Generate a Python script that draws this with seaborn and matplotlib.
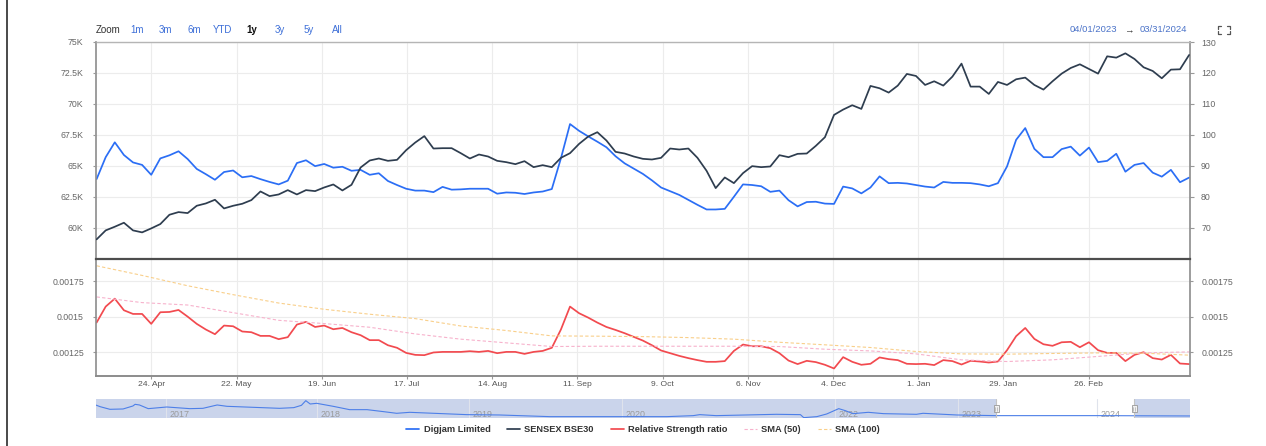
import pandas as pd
import numpy as np
import matplotlib
matplotlib.use('Agg')
import matplotlib.pyplot as plt
import matplotlib.dates as mdates
from matplotlib.ticker import FuncFormatter, FixedLocator
from matplotlib.lines import Line2D
from matplotlib.patches import Rectangle
import seaborn as sns

# datas de amostragem (a cada ~3 dias, de abr/2023 a mar/2024)
dates = pd.date_range('2023-04-06', '2024-03-30', periods=121)

# preco Digjam Limited (eixo direito)
digjam = [85.7, 92.8, 97.6, 93.5, 91.1, 90.3, 87.1, 92.4, 93.4, 94.7,
          92.2, 89.0, 87.3, 85.5, 88.0, 88.5, 86.3, 86.7, 85.7, 84.8,
          84.0, 85.2, 90.9, 91.8, 89.9, 90.6, 89.4, 89.7, 88.4, 88.7,
          87.1, 87.6, 85.1, 83.8, 82.6, 82.0, 82.0, 81.5, 83.2, 82.3,
          82.4, 82.6, 82.6, 82.6, 81.0, 81.4, 81.3, 80.9, 81.4, 81.7,
          82.5, 92.4, 103.5, 101.3, 99.5, 97.8, 96.0, 93.1, 90.8, 89.1,
          87.4, 85.3, 83.0, 81.8, 80.6, 79.0, 77.4, 75.9, 75.9, 76.1,
          80.0, 84.0, 83.8, 83.4, 81.6, 82.0, 78.9, 76.9, 78.3, 78.4,
          77.8, 77.7, 83.3, 82.7, 81.1, 83.0, 86.6, 84.4, 84.5, 84.3,
          83.8, 83.3, 83.0, 84.8, 84.5, 84.5, 84.4, 84.0, 83.4, 84.4,
          89.8, 98.4, 102.2, 95.5, 92.8, 92.8, 95.4, 96.2, 93.3, 95.9,
          91.2, 91.6, 93.9, 88.1, 90.3, 90.9, 87.8, 86.5, 88.7, 84.7, 86.2]

# SENSEX BSE30 (eixo esquerdo)
sensex = [59060, 59786, 60082, 60404, 59786, 59625, 59947, 60297, 61049, 61264,
          61184, 61775, 61963, 62259, 61560, 61775, 61936, 62232, 62931, 62555,
          62689, 63038, 62689, 63038, 62958, 63253, 63495, 63012, 63468, 64866,
          65431, 65592, 65404, 65484, 66264, 66882, 67400, 66398, 66425, 66425,
          66022, 65592, 65915, 65753, 65404, 65296, 65135, 65377, 64893, 65054,
          64893, 65646, 66022, 66775, 67366, 67716, 67044, 66130, 65995, 65753,
          65565, 65511, 65646, 66398, 66318, 66398, 65646, 64597, 63200, 64060,
          63603, 64409, 64974, 64893, 64947, 65861, 65700, 65968, 65995, 66613,
          67312, 69113, 69543, 69893, 69597, 71452, 71264, 70914, 71479, 72420,
          72258, 71532, 71828, 71479, 72204, 73253, 71398, 71398, 70807, 71774,
          71532, 71989, 72124, 71532, 71156, 71828, 72446, 72903, 73199, 72823,
          72446, 73844, 73737, 74086, 73629, 72957, 72661, 72070, 72769, 72796, 73952]

# relative strength ratio
ratio = [0.001459, 0.001572, 0.001628, 0.001546, 0.001520, 0.001520, 0.001450, 0.001532, 0.001534, 0.001548,
         0.001501, 0.001450, 0.001410, 0.001377, 0.001438, 0.001433, 0.001396, 0.001391, 0.001365, 0.001365,
         0.001342, 0.001356, 0.001445, 0.001464, 0.001428, 0.001438, 0.001412, 0.001421, 0.001391, 0.001370,
         0.001335, 0.001335, 0.001299, 0.001281, 0.001245, 0.001231, 0.001229, 0.001248, 0.001252, 0.001252,
         0.001252, 0.001257, 0.001252, 0.001259, 0.001243, 0.001252, 0.001252, 0.001238, 0.001252, 0.001259,
         0.001281, 0.001410, 0.001572, 0.001525, 0.001494, 0.001459, 0.001428, 0.001407, 0.001384, 0.001358,
         0.001332, 0.001299, 0.001262, 0.001243, 0.001224, 0.001208, 0.001194, 0.001182, 0.001182, 0.001187,
         0.001259, 0.001304, 0.001292, 0.001292, 0.001278, 0.001243, 0.001191, 0.001166, 0.001189, 0.001180,
         0.001161, 0.001135, 0.001215, 0.001182, 0.001161, 0.001168, 0.001213, 0.001201, 0.001194, 0.001168,
         0.001166, 0.001168, 0.001159, 0.001194, 0.001187, 0.001163, 0.001189, 0.001184, 0.001177, 0.001184,
         0.001264, 0.001363, 0.001421, 0.001344, 0.001306, 0.001295, 0.001320, 0.001323, 0.001285, 0.001320,
         0.001264, 0.001245, 0.001245, 0.001187, 0.001231, 0.001250, 0.001208, 0.001198, 0.001231, 0.001170, 0.001166]

# medias moveis (amostradas a cada 5 pontos)
sma_dates = dates[::5]
sma50 = [0.001640, 0.001600, 0.001583, 0.001529, 0.001475, 0.001452, 0.001426, 0.001379, 0.001342,
         0.001316, 0.001290, 0.001292, 0.001292, 0.001292, 0.001292, 0.001290, 0.001271, 0.001259,
         0.001238, 0.001196, 0.001184, 0.001196, 0.001220, 0.001245, 0.001252]
sma100 = [0.001860, 0.001792, 0.001719, 0.001656, 0.001597, 0.001553, 0.001518, 0.001487, 0.001435,
          0.001403, 0.001365, 0.001363, 0.001360, 0.001353, 0.001342, 0.001320, 0.001302, 0.001283,
          0.001255, 0.001238, 0.001236, 0.001241, 0.001245, 0.001243, 0.001229]

# navegador (historico completo, posicao 0-1 e altura relativa 0-100)
nav_pos = [0.000, 0.004, 0.013, 0.025, 0.034, 0.036, 0.040, 0.048, 0.065, 0.086, 0.098, 0.111,
           0.120, 0.144, 0.168, 0.181, 0.188, 0.192, 0.196, 0.202, 0.217, 0.232, 0.248, 0.263,
           0.275, 0.287, 0.309, 0.339, 0.369, 0.415, 0.522, 0.546, 0.552, 0.567, 0.622, 0.644,
           0.647, 0.659, 0.668, 0.679, 0.685, 0.692, 0.706, 0.720, 0.750, 0.756, 0.787, 0.823,
           0.918, 1.000]
nav_val = [69.0, 60.3, 46.6, 48.3, 63.8, 72.4, 69.0, 50.0, 58.6, 50.0, 51.7, 69.0,
           62.1, 56.9, 51.7, 55.2, 67.2, 91.4, 74.1, 77.6, 62.1, 44.8, 44.8, 34.5,
           25.9, 31.0, 25.9, 19.0, 17.2, 8.6, 8.6, 13.8, 19.0, 13.8, 20.7, 19.0,
           3.4, 8.6, 22.4, 50.0, 39.7, 24.1, 31.0, 24.1, 20.7, 25.9, 17.2, 13.8,
           13.8, 12.1]
nav_years = ['2017', '2018', '2019', '2020', '2022', '2023', '2024']
nav_year_pos = [0.064, 0.202, 0.341, 0.481, 0.676, 0.788, 0.915]
nav_window = (0.823, 0.949)

tick_dates = ['2023-04-24', '2023-05-22', '2023-06-19', '2023-07-17', '2023-08-14', '2023-09-11',
              '2023-10-09', '2023-11-06', '2023-12-04', '2024-01-01', '2024-01-29', '2024-02-26']
left_ticks = [60000, 62500, 65000, 67500, 70000, 72500, 75000]
right_ticks = [70, 80, 90, 100, 110, 120, 130]
rs_ticks = [0.00125, 0.0015, 0.00175]
zoom_buttons = ['1m', '3m', '6m', 'YTD', '1y', '3y', '5y', 'All']

BLUE = '#2b6ef5'
DARK = '#2e3d4f'
RED = '#f24a4f'
PINK = '#f7b2cc'
ORANGE = '#f9cf8a'
GRID = '#ececec'
AXIS = '#8c8c8c'
TXT = '#666666'
TICK_FS = 6.3

sns.set_theme(style='white')
plt.rcParams['font.family'] = ['Liberation Sans', 'DejaVu Sans']

W, H = 1266, 446
fig = plt.figure(figsize=(W / 100, H / 100), dpi=100)
fig.patch.set_facecolor('white')


def box(x0, y0, x1, y1):
    return [x0 / W, 1 - y1 / H, (x1 - x0) / W, (y1 - y0) / H]


def fx(x):
    return x / W


def fy(y):
    return 1 - y / H


ax_p = fig.add_axes(box(95.7, 42, 1190, 258.7))
ax_s = ax_p.twinx()
ax_rs = fig.add_axes(box(95.7, 258.7, 1190, 375.7), sharex=ax_p)
ax_nav = fig.add_axes(box(95.7, 399, 1190, 418.3))

# painel superior
sns.lineplot(x=dates, y=digjam, ax=ax_p, color=BLUE, linewidth=1.25, label='Digjam Limited', legend=False)
sns.lineplot(x=dates, y=sensex, ax=ax_s, color=DARK, linewidth=1.25, label='SENSEX BSE30', legend=False)

# painel inferior
sns.lineplot(x=dates, y=ratio, ax=ax_rs, color=RED, linewidth=1.25, label='Relative Strength ratio', legend=False)
sns.lineplot(x=sma_dates, y=sma50, ax=ax_rs, color=PINK, linewidth=0.8, label='SMA (50)', legend=False)
ax_rs.lines[-1].set_dashes([3, 2])
sns.lineplot(x=sma_dates, y=sma100, ax=ax_rs, color=ORANGE, linewidth=0.8, label='SMA (100)', legend=False)
ax_rs.lines[-1].set_dashes([3, 2])

xmin, xmax = pd.Timestamp('2023-04-05 17:00'), pd.Timestamp('2024-03-30 07:00')
ax_rs.set_xlim(xmin, xmax)
ax_rs.xaxis.set_major_locator(FixedLocator(mdates.date2num(pd.to_datetime(tick_dates))))
ax_rs.xaxis.set_major_formatter(mdates.DateFormatter('%-d. %b'))

ax_p.set_ylim(60, 130)
ax_s.set_ylim(57500, 75000)
ax_rs.set_ylim(0.001084, 0.00191)

ax_p.yaxis.tick_right()
ax_p.yaxis.set_major_locator(FixedLocator(right_ticks))
ax_s.yaxis.tick_left()
ax_s.yaxis.set_major_locator(FixedLocator(left_ticks))
ax_s.yaxis.set_major_formatter(FuncFormatter(lambda v, p: f'{v / 1000:g}K'))
ax_rs.yaxis.set_major_locator(FixedLocator(rs_ticks))
ax_rs.yaxis.set_major_formatter(FuncFormatter(lambda v, p: f'{v:g}'))

for a in (ax_p, ax_s, ax_rs):
    a.set_xlabel('')
    a.set_ylabel('')

ax_p.grid(True, color=GRID, linewidth=0.8)
ax_s.grid(False)
ax_rs.grid(True, color=GRID, linewidth=0.8)

ax_p.tick_params(axis='x', bottom=False, labelbottom=False)
ax_p.tick_params(axis='y', right=True, left=False, length=3, width=0.8, color='#999999',
                 labelsize=TICK_FS, labelcolor=TXT, pad=5)
ax_s.tick_params(axis='y', left=True, right=False, length=2.5, width=0.8, color='#999999',
                 labelsize=TICK_FS, labelcolor=TXT, pad=6.5)
ax_rs.tick_params(axis='y', left=True, right=True, labelleft=True, labelright=True,
                  length=2.5, width=0.8, color='#999999', labelsize=TICK_FS, labelcolor=TXT, pad=6)
ax_rs.tick_params(axis='x', bottom=True, length=2.5, width=0.8, color='#999999',
                  labelsize=6.1, labelcolor='#555555', pad=1.3)

for sp in ax_s.spines.values():
    sp.set_visible(False)
ax_p.spines['top'].set_color('#b5b5b5')
ax_p.spines['top'].set_linewidth(1.0)
ax_p.spines['bottom'].set_color('#4d4d4d')
ax_p.spines['bottom'].set_linewidth(1.6)
for s in ('left', 'right'):
    ax_p.spines[s].set_color(AXIS)
    ax_p.spines[s].set_linewidth(1.2)
    ax_rs.spines[s].set_color(AXIS)
    ax_rs.spines[s].set_linewidth(1.2)
ax_rs.spines['top'].set_visible(False)
ax_rs.spines['bottom'].set_color(AXIS)
ax_rs.spines['bottom'].set_linewidth(1.4)
ax_p.set_zorder(1)
ax_s.set_zorder(2)

# navegador
ax_nav.set_xlim(0, 1)
ax_nav.set_ylim(0, 100)
ax_nav.axvspan(0, nav_window[0], color='#cad4eb', lw=0, zorder=0)
ax_nav.axvspan(nav_window[1], 1, color='#cad4eb', lw=0, zorder=0)
for p, yr in zip(nav_year_pos, nav_years):
    ax_nav.axvline(p, color='#dfe3ec', lw=0.8, zorder=1)
    ax_nav.text(p + 0.003, 22, yr, fontsize=6.4, color='#9a9a9a', va='center', ha='left', zorder=1)
sns.lineplot(x=nav_pos, y=nav_val, ax=ax_nav, color='#4d7fe8', linewidth=0.8, zorder=2)
for p in nav_window:
    ax_nav.axvline(p, color='#c4c4c4', lw=0.8, zorder=3)
    ax_nav.add_patch(Rectangle((p - 0.0023, 31), 0.0046, 38, facecolor='#f2f2f2',
                               edgecolor='#999999', lw=0.6, zorder=4))
    ax_nav.plot([p - 0.0008, p - 0.0008], [40, 60], color='#999999', lw=0.4, zorder=5)
    ax_nav.plot([p + 0.0008, p + 0.0008], [40, 60], color='#999999', lw=0.4, zorder=5)
ax_nav.set_xticks([])
ax_nav.set_yticks([])
ax_nav.set_xlabel('')
ax_nav.set_ylabel('')
for sp in ax_nav.spines.values():
    sp.set_visible(False)

# legenda
handles = ax_p.lines[:1] + ax_s.lines[:1] + ax_rs.lines[:3]
labels = ['Digjam Limited', 'SENSEX BSE30', 'Relative Strength ratio', 'SMA (50)', 'SMA (100)']
fig.legend(handles, labels, loc='center', bbox_to_anchor=(fx(643), fy(430)), ncol=5, frameon=False,
           prop={'size': 6.7, 'weight': 'bold'}, labelcolor='#333333', handlelength=1.4,
           handletextpad=0.45, columnspacing=1.8)

# seletor de periodo
HDR_FS = 7.0
fig.text(fx(96), fy(30), 'Zoom', fontsize=HDR_FS, color='#333333', va='center', ha='left')
btn_x = [130, 159, 187, 213, 246, 275, 304, 332]
for bx, lab in zip(btn_x, zoom_buttons):
    if lab == '1y':
        fig.text(fx(bx), fy(30), lab, fontsize=HDR_FS, color='#111111', weight='bold', va='center', ha='left')
    else:
        fig.text(fx(bx), fy(30), lab, fontsize=HDR_FS, color='#3d6fd8', va='center', ha='left')

fig.text(fx(1070), fy(30), '04/01/2023', fontsize=6.8, color='#4a72c8', va='center', ha='left')
fig.text(fx(1130), fy(30.5), '→', fontsize=6.8, color='#333333', va='center', ha='center')
fig.text(fx(1140), fy(30), '03/31/2024', fontsize=6.8, color='#4a72c8', va='center', ha='left')

# icone tela cheia
ic = [((1218, 29), (1218, 26), (1221, 26)), ((1227, 26), (1230, 26), (1230, 29)),
      ((1218, 31), (1218, 34), (1221, 34)), ((1227, 34), (1230, 34), (1230, 31))]
for pts in ic:
    fig.add_artist(Line2D([fx(p[0]) for p in pts], [fy(p[1]) for p in pts], color='#555555', lw=0.9))

# borda esquerda
fig.add_artist(Line2D([fx(7.3), fx(7.3)], [0, 1], color='#4a4a4a', lw=1.4))

fig.savefig('out.png', dpi=100)
